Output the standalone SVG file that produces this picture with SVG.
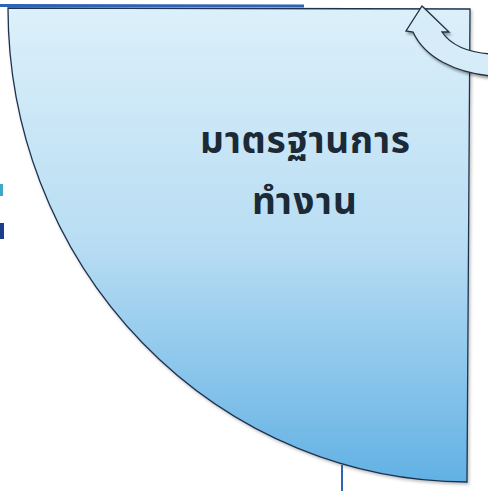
<svg xmlns="http://www.w3.org/2000/svg" width="488" height="491" viewBox="0 0 488 491">
  <defs>
    <linearGradient id="fillGrad" gradientUnits="userSpaceOnUse" x1="0" y1="8" x2="0" y2="482">
      <stop offset="0" stop-color="#dcf0fa"/>
      <stop offset="0.5" stop-color="#b8ddf3"/>
      <stop offset="1" stop-color="#62b1e4"/>
    </linearGradient>
    <filter id="shadow" x="-10%" y="-10%" width="130%" height="130%">
      <feDropShadow dx="1.5" dy="2" stdDeviation="1.5" flood-color="#000" flood-opacity="0.25"/>
    </filter>
    <filter id="arrowShadow" x="-20%" y="-20%" width="150%" height="160%">
      <feDropShadow dx="1.5" dy="2.5" stdDeviation="1.2" flood-color="#000" flood-opacity="0.35"/>
    </filter>
  </defs>
  <style>
    .shape { fill: url(#fillGrad); stroke: #1e3350; stroke-width: 1.3; }
    .label { font-family: "Noto Sans Thai", "Noto Sans", "Liberation Sans", sans-serif; font-weight: bold; font-size: 37px; fill: #1b2a36; }
    .arrow { fill: #d6edf9; stroke: #23303c; stroke-width: 1.3; stroke-linejoin: miter; }
    .edge { stroke: #2f63b8; fill: none; }
  </style>
  <rect width="488" height="491" fill="#ffffff"/>
  <g id="edge-marks">
    <rect x="0" y="184" width="3" height="12" fill="#3fa8c8"/>
    <rect x="0" y="223" width="4" height="16" fill="#1c3d8a"/>
  </g>
  <g id="quarter">
    <path class="shape" filter="url(#shadow)" d="M 8,8 L 470,9 L 467,482 A 460 474 0 0 1 8,8 Z"/>
    <text class="label" x="200" y="153" textLength="210" lengthAdjust="spacing">มาตรฐานการ</text>
    <text class="label" x="252" y="214" textLength="105" lengthAdjust="spacing">ทำงาน</text>
  </g>
  <g id="connectors">
    <line class="edge" x1="0" y1="5.5" x2="304" y2="6" stroke-width="3"/>
    <line class="edge" x1="342" y1="465" x2="342" y2="491" stroke-width="2"/>
    <path class="arrow" filter="url(#arrowShadow)" d="M 422,6 L 449,32 L 442,32 C 450,44 465,52 490,54 L 490,76 C 455,72 425,58 413,32 L 406,31 Z"/>
  </g>
</svg>
